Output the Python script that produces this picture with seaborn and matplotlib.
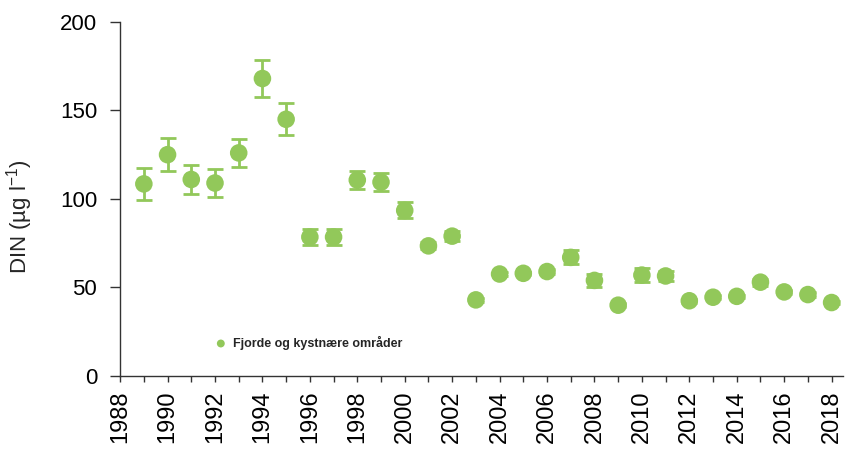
import numpy as np
import pandas as pd
import matplotlib
matplotlib.use('Agg')
import matplotlib.pyplot as plt
import seaborn as sns

# DIN values
years = list(range(1989, 2019))
din = [108.5, 125, 111, 109, 126, 168, 145, 78.5, 78.5, 110.7,
       109.5, 93.5, 73.5, 79, 43, 57.6, 58, 59, 67, 54,
       40, 57, 56.5, 42.5, 44.5, 45, 53, 47.5, 46, 41.5]
err = [9, 9.5, 8, 8, 8, 10.5, 9, 4.5, 4.5, 5,
       5, 4.5, 2, 3, 1, 1, 1, 1.5, 4, 3.5,
       1, 4, 3, 1, 1, 1, 2, 1, 1.5, 1]
label = 'Fjorde og kystnære områder'

df = pd.DataFrame({'Year': years, 'DIN': din, 'err': err})

sns.set_style('ticks')
plt.rcParams['font.family'] = ['Liberation Sans', 'DejaVu Sans']
plt.rcParams['mathtext.default'] = 'regular'

green = '#92C85A'

fig = plt.figure(figsize=(8.46, 4.5), dpi=100)
ax = fig.add_axes([0.142, 0.1644, 0.855, 0.787])

ax.errorbar(df['Year'], df['DIN'], yerr=df['err'], fmt='none', ecolor=green,
            elinewidth=2, capsize=5.5, capthick=2, zorder=2)
sns.scatterplot(data=df, x='Year', y='DIN', color=green, s=160, edgecolor='none',
                label=label, ax=ax, zorder=3)

ax.set_xlim(1988, 2018.5)
ax.set_ylim(0, 200)
ax.set_xticks(range(1988, 2019, 2))
ax.set_xticks(range(1988, 2019), minor=True)
ax.set_yticks([0, 50, 100, 150, 200])
ax.tick_params(axis='x', which='both', direction='out', length=4.5, width=1, colors='#333333',
               labelrotation=90, labelsize=17, labelcolor='black', pad=6)
ax.tick_params(axis='y', direction='out', length=7.5, width=1, colors='#333333',
               labelsize=16, labelcolor='black', pad=9)
ax.set_xlabel('')
ax.set_ylabel('DIN (µg l$^{-1}$)', fontsize=16)
ax.yaxis.set_label_coords(-0.118, 0.45)

for s in ['top', 'right']:
    ax.spines[s].set_visible(False)
for s in ['left', 'bottom']:
    ax.spines[s].set_color('#333333')
    ax.spines[s].set_linewidth(1)

leg = ax.legend(loc='lower left', bbox_to_anchor=(0.115, 0.06), frameon=False,
                handletextpad=0.0, borderaxespad=0, markerscale=0.45,
                prop={'weight': 'bold', 'size': 9})

fig.savefig('out.png', dpi=100)
